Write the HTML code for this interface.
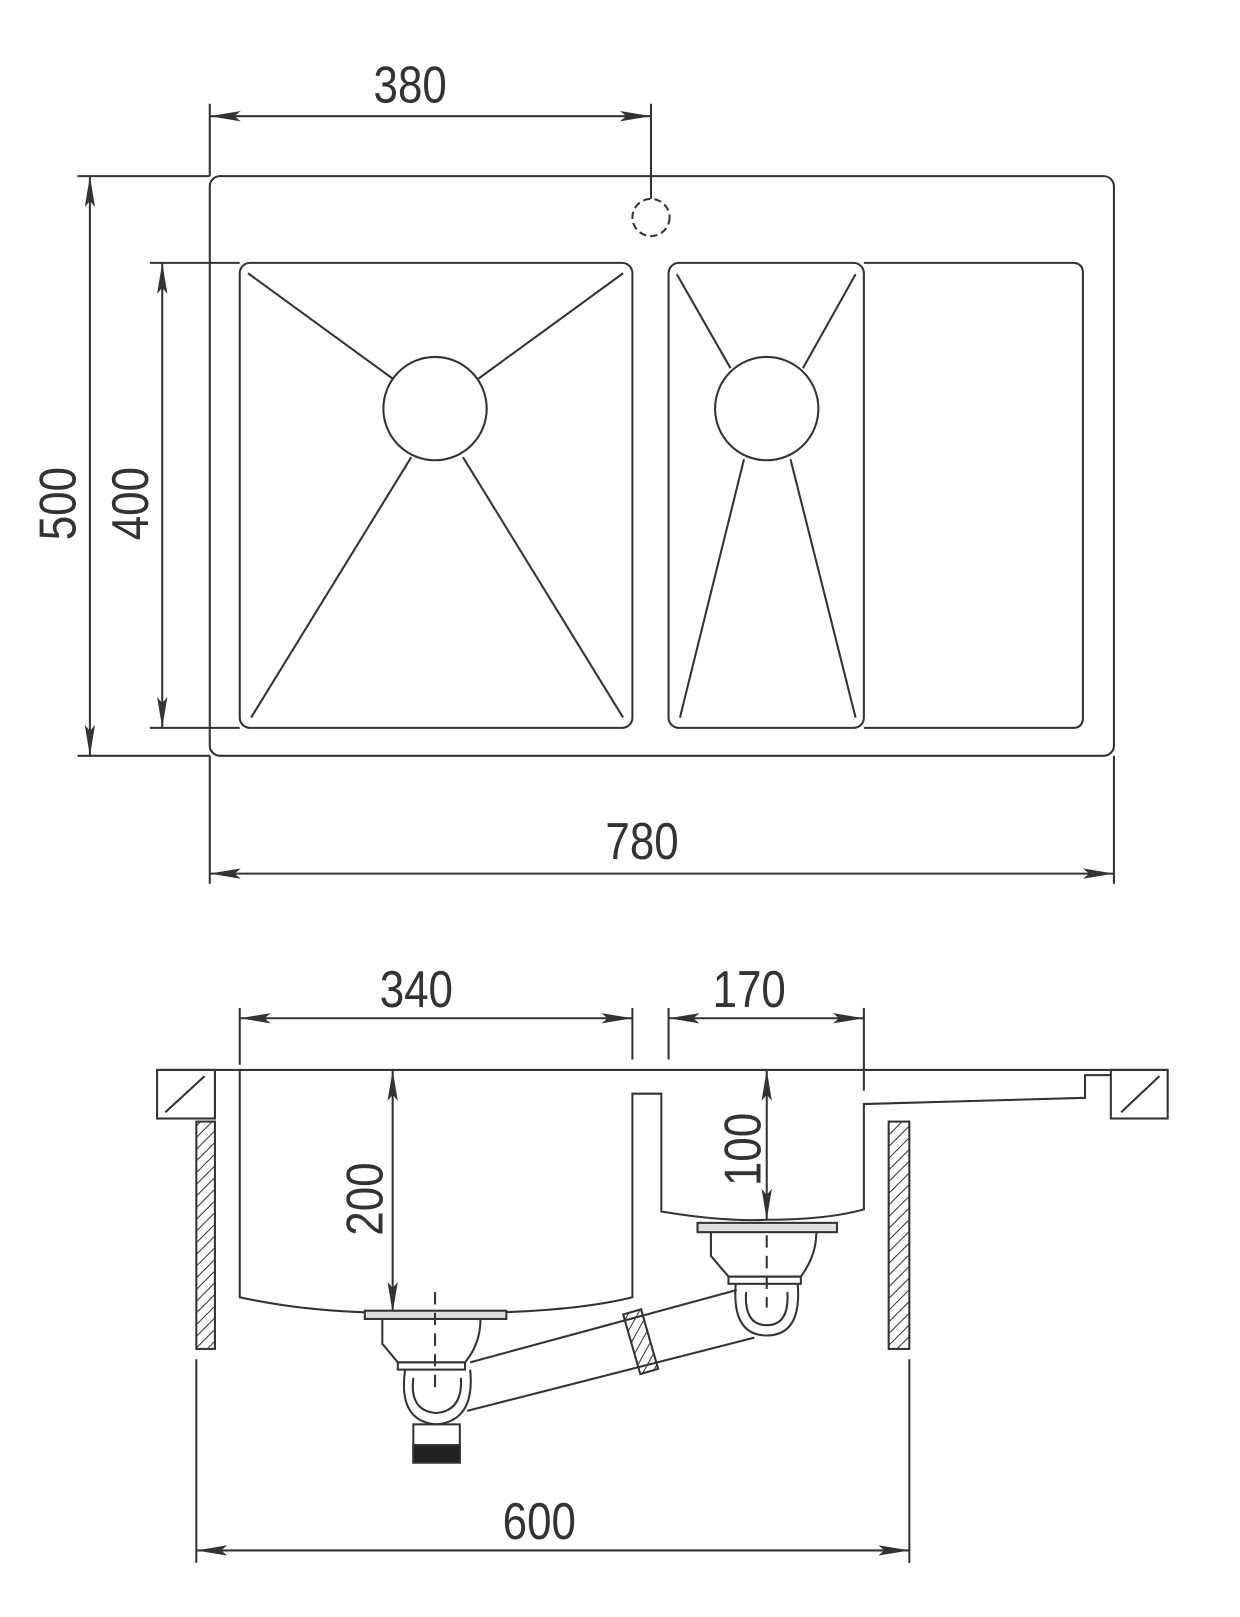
<!DOCTYPE html>
<html><head><meta charset="utf-8"><style>
html,body{margin:0;padding:0;background:#fff;}
svg{display:block;}
text{font-family:"Liberation Sans",sans-serif;font-size:50px;fill:#333;}
</style></head><body>
<svg width="1240" height="1617" viewBox="0 0 1200 1564" xmlns="http://www.w3.org/2000/svg">
<defs>
<marker id="a" viewBox="0 0 30 10" refX="30" refY="5" markerWidth="30" markerHeight="10" markerUnits="userSpaceOnUse" orient="auto-start-reverse"><path d="M0,0 L30,5 L0,10 L6,5 Z" fill="#333"/></marker>
<pattern id="h" width="8" height="8" patternUnits="userSpaceOnUse" patternTransform="rotate(45)"><line x1="0" y1="0" x2="0" y2="8" stroke="#333" stroke-width="2"/></pattern>
</defs>
<g stroke="#333" stroke-width="2" fill="none">
<line x1="203" y1="100" x2="203" y2="170"/>
<line x1="630" y1="100" x2="630" y2="192"/>
<line x1="203" y1="112" x2="630" y2="112" marker-start="url(#a)" marker-end="url(#a)"/>
<rect x="203" y="170" width="875" height="561" rx="10"/>
<circle cx="630" cy="210" r="18" stroke-dasharray="7,4"/>
<rect x="232" y="254" width="380" height="450" rx="10"/>
<circle cx="421" cy="395" r="50"/>
<line x1="240" y1="264" x2="380" y2="366"/><line x1="603" y1="264" x2="463" y2="366"/>
<line x1="243" y1="694" x2="398" y2="442"/><line x1="603" y1="694" x2="448" y2="442"/>
<path d="M836,254 H1038 Q1048,254 1048,264 V694 Q1048,704 1038,704 H836"/>
<rect x="647" y="254" width="189" height="450" rx="10"/>
<circle cx="742" cy="395" r="50"/>
<line x1="655" y1="265" x2="707" y2="356"/><line x1="828" y1="265" x2="777" y2="356"/>
<line x1="658" y1="694" x2="720" y2="444"/><line x1="828" y1="694" x2="765" y2="444"/>
<line x1="75" y1="170" x2="203" y2="170"/><line x1="75" y1="731" x2="203" y2="731"/>
<line x1="87" y1="170" x2="87" y2="731" marker-start="url(#a)" marker-end="url(#a)"/>
<line x1="145" y1="254" x2="232" y2="254"/><line x1="145" y1="704" x2="232" y2="704"/>
<line x1="157" y1="254" x2="157" y2="704" marker-start="url(#a)" marker-end="url(#a)"/>
<line x1="203" y1="731" x2="203" y2="855"/><line x1="1078" y1="731" x2="1078" y2="855"/>
<line x1="203" y1="845" x2="1078" y2="845" marker-start="url(#a)" marker-end="url(#a)"/>
<line x1="232" y1="975" x2="232" y2="1030"/><line x1="612" y1="975" x2="612" y2="1025"/>
<line x1="232" y1="985" x2="612" y2="985" marker-start="url(#a)" marker-end="url(#a)"/>
<line x1="647" y1="975" x2="647" y2="1025"/><line x1="836" y1="975" x2="836" y2="1055"/>
<line x1="647" y1="985" x2="836" y2="985" marker-start="url(#a)" marker-end="url(#a)"/>
<line x1="152" y1="1035" x2="1130" y2="1035"/>
<rect x="152" y="1035" width="56" height="47"/>
<line x1="160" y1="1076" x2="198" y2="1041"/>
<rect x="1075" y="1035" width="55" height="47"/>
<line x1="1085" y1="1076" x2="1122" y2="1041"/>
<line x1="208" y1="1035" x2="208" y2="1082"/>
<path d="M232,1035 V1255 Q300,1270 380,1270 H470 Q560,1268 612,1255 V1058 H640 V1172 Q700,1182 742,1180 Q800,1180 836,1170 V1068 L1050,1062 V1040 H1075"/>
<rect x="190" y="1085" width="18" height="220" fill="url(#h)"/>
<rect x="860" y="1085" width="20" height="220" fill="url(#h)"/>
<line x1="380" y1="1035" x2="380" y2="1270" marker-start="url(#a)" marker-end="url(#a)"/>
<line x1="742" y1="1035" x2="742" y2="1180" marker-start="url(#a)" marker-end="url(#a)"/>
<line x1="190" y1="1315" x2="190" y2="1512"/><line x1="880" y1="1315" x2="880" y2="1512"/>
<line x1="190" y1="1500" x2="880" y2="1500" marker-start="url(#a)" marker-end="url(#a)"/>
<rect x="353" y="1268" width="137" height="8" fill="#ddd"/>
<path d="M370,1276 V1300 Q385,1318 385,1318 H450 Q465,1300 465,1276"/>
<rect x="385" y="1318" width="65" height="7"/>
<path d="M392,1325 Q385,1375 422,1378 Q460,1375 455,1325"/>
<path d="M400,1333 Q396,1365 422,1367 Q448,1365 446,1333"/>
<rect x="400" y="1378" width="45" height="37"/>
<rect x="400" y="1398" width="45" height="17" fill="#222"/>
<line x1="421" y1="1250" x2="421" y2="1350" stroke-dasharray="12,8"/>
<rect x="675" y="1183" width="135" height="9" fill="#ddd"/>
<path d="M688,1192 V1215 Q705,1235 705,1235 H775 Q790,1215 790,1192"/>
<rect x="705" y="1235" width="70" height="7"/>
<path d="M712,1242 Q708,1292 742,1292 Q776,1292 772,1242"/>
<path d="M722,1250 Q720,1282 742,1282 Q764,1282 762,1250"/>
<line x1="742" y1="1195" x2="742" y2="1265" stroke-dasharray="12,8"/>
<line x1="455" y1="1318" x2="713" y2="1248"/>
<line x1="452" y1="1365" x2="730" y2="1294"/>
<g transform="translate(620,1298) rotate(-16)">
<rect x="-9" y="-30" width="18" height="60" fill="url(#h)"/>
</g>
</g>
<g transform="scale(0.85,1)">
<text x="467" y="99" text-anchor="middle">380</text>
<text x="731" y="831" text-anchor="middle">780</text>
<text x="474" y="974" text-anchor="middle">340</text>
<text x="853" y="974" text-anchor="middle">170</text>
<text x="614" y="1489" text-anchor="middle">600</text>
</g>
<text transform="translate(73,487) rotate(-90) scale(0.85,1)" text-anchor="middle">500</text>
<text transform="translate(143,487) rotate(-90) scale(0.85,1)" text-anchor="middle">400</text>
<text transform="translate(370,1160) rotate(-90) scale(0.85,1)" text-anchor="middle">200</text>
<text transform="translate(736,1112) rotate(-90) scale(0.85,1)" text-anchor="middle">100</text>
</svg>
</body></html>
